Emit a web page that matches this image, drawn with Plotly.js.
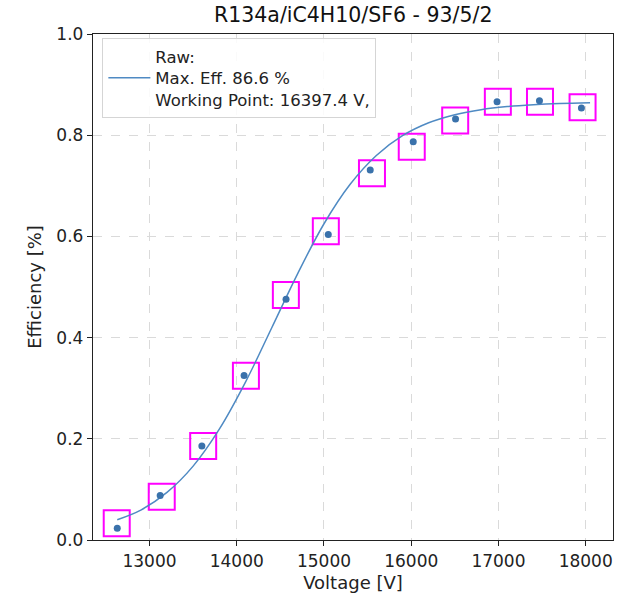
<!DOCTYPE html>
<html>
<head>
<meta charset="utf-8">
<script src="https://cdn.plot.ly/plotly-3.0.1.min.js"></script>
<style>html,body{margin:0;padding:0;background:#fff;}#chart{width:623px;height:601px;}</style>
</head>
<body>
<div id="chart"></div>
<script>
// Measured points
const voltage = [12630, 13122, 13600, 14084, 14565, 15049, 15530, 16023, 16508, 16984, 17470, 17951];
const efficiency = [0.023, 0.088, 0.186, 0.325, 0.476, 0.604, 0.731, 0.787, 0.832, 0.866, 0.868, 0.854];
// Magenta boxes
const boxVoltage = [12624, 13140, 13615, 14105, 14563, 15021, 15550, 16006, 16504, 16993, 17476, 17964];
const boxEfficiency = [0.033, 0.0855, 0.186, 0.3245, 0.484, 0.610, 0.725, 0.777, 0.829, 0.866, 0.866, 0.855];
// Fit curve
const fitVoltage = [12630, 12900, 13200, 13500, 13800, 14100, 14400, 14700, 15000, 15300, 15600, 15900, 16200, 16500, 16800, 17100, 17400, 17700, 18050];
const fitEfficiency = [0.040, 0.059, 0.094, 0.146, 0.219, 0.312, 0.419, 0.527, 0.625, 0.703, 0.760, 0.799, 0.8245, 0.8405, 0.8505, 0.8566, 0.8603, 0.8626, 0.8641];
const xTicks = [13000, 14000, 15000, 16000, 17000, 18000];
const yTicks = [0.0, 0.2, 0.4, 0.6, 0.8, 1.0];
const legendText = "Raw:<br>Max. Eff. 86.6 %<br>Working Point: 16397.4 V,";
const titleText = "R134a/iC4H10/SF6 - 93/5/2";

const font = "DejaVu Sans, sans-serif";

const traces = [
  {
    x: boxVoltage, y: boxEfficiency, type: "scatter", mode: "markers",
    marker: {symbol: "square-open", size: 26, color: "#ff00ff", line: {color: "#ff00ff", width: 2}},
    showlegend: false, hoverinfo: "skip"
  },
  {
    x: fitVoltage, y: fitEfficiency, type: "scatter", mode: "lines",
    line: {color: "#4f8ac3", width: 1.5, shape: "spline"},
    name: legendText, showlegend: true
  },
  {
    x: voltage, y: efficiency, type: "scatter", mode: "markers",
    marker: {symbol: "circle", size: 7, color: "#3a72ab"},
    showlegend: false
  }
];

const layout = {
  width: 623, height: 601,
  margin: {l: 93, r: 10, t: 34, b: 61},
  paper_bgcolor: "#fff", plot_bgcolor: "#fff",
  font: {family: font, color: "#222", size: 17},
  title: {text: titleText, x: 0.567, xanchor: "center", y: 0.975, yanchor: "middle", font: {family: font, size: 20.5, color: "#111"}},
  xaxis: {
    range: [12352, 18313],
    tickvals: xTicks, ticktext: xTicks.map(String),
    ticks: "outside", ticklen: 5, tickwidth: 1, tickcolor: "#222",
    showline: true, linecolor: "#222", linewidth: 1.2, mirror: true,
    showgrid: true, gridcolor: "#dadada", griddash: "dash", gridwidth: 1,
    zeroline: false,
    tickfont: {family: font, size: 17, color: "#222"},
    title: {text: "Voltage [V]", font: {family: font, size: 18, color: "#222"}, standoff: 6}
  },
  yaxis: {
    range: [0, 1],
    tickvals: yTicks, ticktext: yTicks.map(v => v.toFixed(1)),
    ticks: "outside", ticklen: 5, tickwidth: 1, tickcolor: "#222",
    showline: true, linecolor: "#222", linewidth: 1.2, mirror: true,
    showgrid: true, gridcolor: "#dadada", griddash: "dash", gridwidth: 1,
    zeroline: false,
    tickfont: {family: font, size: 17, color: "#222"},
    title: {text: "Efficiency [%]", font: {family: font, size: 18, color: "#222"}, standoff: 10}
  },
  legend: {
    x: 0.018, y: 0.992, xanchor: "left", yanchor: "top",
    bgcolor: "rgba(255,255,255,0.85)", bordercolor: "#d5d5d5", borderwidth: 1,
    font: {family: font, size: 16.5, color: "#222"}, valign: "middle",
    itemwidth: 42
  },
  showlegend: true
};

Plotly.newPlot("chart", traces, layout, {displayModeBar: false, staticPlot: true});
</script>
</body>
</html>
